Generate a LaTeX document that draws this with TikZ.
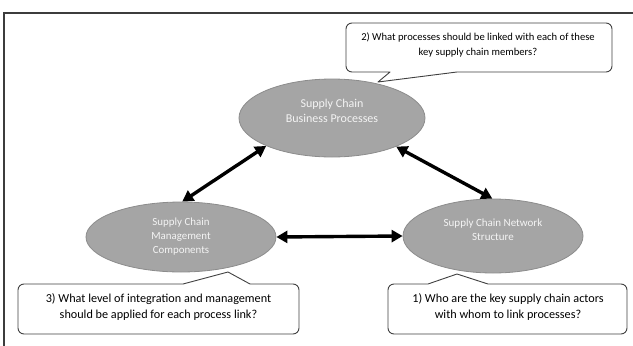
\documentclass[tikz,border=0pt]{standalone}
\usepackage{fontspec}
\setmainfont{Carlito}
\usetikzlibrary{shapes.geometric,arrows.meta}
\definecolor{ovalfill}{HTML}{A5A5A5}
\definecolor{ovaledge}{HTML}{8C8C8C}
\definecolor{ovaltext}{HTML}{F4F4F4}
\definecolor{boxedge}{HTML}{404040}
\definecolor{framegray}{HTML}{3C3C3C}
\tikzset{
  oval/.style={ellipse, fill=ovalfill, draw=ovaledge, line width=0.8pt,
    inner sep=0pt, text=ovaltext, align=center},
  bubble/.style={draw=boxedge, line width=0.9pt, fill=white, line join=round},
  bubbletext/.style={align=center, text=black, inner sep=0pt},
  link/.style={line width=3.4pt, black,
    {Triangle[length=11pt,width=12pt]}-{Triangle[length=11pt,width=12pt]}},
}
\begin{document}
\begin{tikzpicture}[x=1pt,y=-1pt]
\useasboundingbox (0,0) rectangle (633,346);

% outer frame (top and left edges)
\draw[framegray, line width=1.6pt] (4,350) -- (4,13) -- (640,13);

% speech bubbles
\draw[bubble] (390,72) -- (378,82) -- (457,72) [rounded corners=6pt]
  -- (612,72) -- (612,23) -- (346,23) -- (346,72) [sharp corners] -- cycle;
\node[bubbletext, font=\fontsize{10.6}{15.5}\selectfont] (q2) at (478,45)
  {2) What processes should be linked with each of these\\key supply chain members?};

\draw[bubble] (228,272) -- (250,284) [rounded corners=6pt] -- (299,284)
  -- (299,334) -- (18,334) -- (18,284) [sharp corners] -- (183,284) -- cycle;
\node[bubbletext, font=\fontsize{12.2}{16}\selectfont] (q3) at (158.5,307.5)
  {3) What level of integration and management\\should be applied for each process link?};

\draw[bubble] (457,274) -- (488,284) [rounded corners=6pt] -- (627,284)
  -- (627,334) -- (388,334) -- (388,284) [sharp corners] -- (428,284) -- cycle;
\node[bubbletext, font=\fontsize{12.2}{16}\selectfont] (q1) at (508,307.5)
  {1) Who are the key supply chain actors\\with whom to link processes?};

% the three elements
\node[oval, minimum width=186pt, minimum height=78pt,
  font=\fontsize{12}{15}\selectfont] (bp) at (332,118)
  {Supply Chain\\Business Processes\\[0pt]};
\node[oval, minimum width=190pt, minimum height=70pt,
  font=\fontsize{10.9}{14}\selectfont] (mc) at (181,237)
  {Supply Chain\\Management\\Components};
\node[oval, minimum width=180pt, minimum height=74pt,
  font=\fontsize{11}{14}\selectfont] (ns) at (493,236)
  {Supply Chain Network\\Structure\\[-1pt]};

% links between elements
\draw[link] (bp.203.7) -- (mc.88);
\draw[link] (bp.336.3) -- (ns.91);
\draw[link] (mc.east) -- (ns.west);
\end{tikzpicture}
\end{document}
